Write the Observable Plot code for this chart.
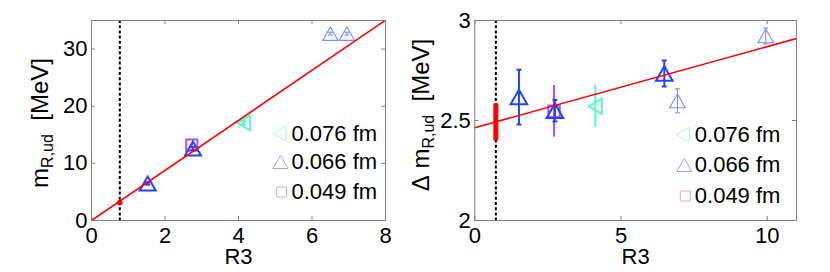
<!DOCTYPE html>
<html><head><meta charset="utf-8">
<script src="https://cdn.jsdelivr.net/npm/d3@7"></script>
<script src="https://cdn.jsdelivr.net/npm/@observablehq/plot@0.6"></script>
<style>
body{margin:0;background:#fff;}
#wrap{display:flex;width:830px;height:272px;overflow:hidden;}
svg{display:block;}
</style></head><body><div id="wrap"></div>
<script>
// legend labels (lattice spacings)
const legendLabels = ["0.076 fm", "0.066 fm", "0.049 fm"];

// ---- Left panel: m_R,ud [MeV] vs R3 ----
const leftXTicks = [0, 2, 4, 6, 8];
const leftYTicks = [0, 10, 20, 30];
const mR3_076 = [4.14], m_076 = [17.1], mErr_076 = [0.3];
const mR3_066 = [1.53, 2.76], m_066 = [6.47, 12.6], mErr_066 = [0.2, 0.25];
const mR3_066b = [6.50, 6.95], m_066b = [32.7, 32.7], mErr_066b = [0.25, 0.25];
const mR3_049 = [2.73], m_049 = [13.2], mErr_049 = [0.2];
const mPhysR3 = [0.77], mPhys = [3.1], mPhysErr = [0.4];
const mFitR3 = [0, 8], mFit = [0, 35.04];

// ---- Right panel: Delta m_R,ud [MeV] vs R3 ----
const rightXTicks = [0, 5, 10];
const rightYTicks = [2, 2.5, 3];
const dR3_076 = [4.12], d_076 = [2.571], dErr_076 = [0.107];
const dR3_066 = [1.51, 2.74, 6.48], d_066 = [2.617, 2.549, 2.735], dErr_066 = [0.137, 0.054, 0.065];
const dR3_066b = [6.93, 9.95], d_066b = [2.598, 2.923], dErr_066b = [0.06, 0.04];
const dR3_049 = [2.71], d_049 = [2.546], dErr_049 = [0.129];
const dPhysR3 = [0.72], dPhys = [2.49], dPhysErr = [0.093];
const dFitR3 = [0, 11], dFit = [2.464, 2.910];

const rows = (xs, ys, es) => xs.map((x, i) => ({x, y: ys[i], e: es ? es[i] : 0}));

// marker shapes
const triUp = {draw(c, s) {const r = Math.sqrt(s / Math.PI), h = 0.875 * r; c.moveTo(0, -h); c.lineTo(r, h); c.lineTo(-r, h); c.closePath();}};
const triLeft = {draw(c, s) {const r = Math.sqrt(s / Math.PI), h = 0.875 * r; c.moveTo(-h, 0); c.lineTo(h, -r); c.lineTo(h, r); c.closePath();}};
const square = {draw(c, s) {const r = Math.sqrt(s / Math.PI); c.rect(-r, -r, 2 * r, 2 * r);}};
const capSym = {draw(c, s) {const r = Math.sqrt(s / Math.PI); c.moveTo(-r, 0); c.lineTo(r, 0);}};

const DARK = "#2443ff", LIGHT = "#7b8cff", CYAN = "#5ff5c8", PURPLE = "#b44cf2";
const legendSyms = [triLeft, triUp, square];
const legendCols = ["#aef8e2", "#9aa4ff", "#dea2f8"];
const FONT = "Liberation Sans, Arial, Helvetica, sans-serif";
const FS = 22;

function series(data, sym, r, color, sw, caps) {
  const m = [
    Plot.ruleX(data, {x: "x", y1: d => d.y - d.e, y2: d => d.y + d.e, stroke: color, strokeWidth: sw})
  ];
  if (caps) {
    m.push(Plot.dot(data, {x: "x", y: d => d.y + d.e, symbol: capSym, r: 2.5, stroke: color, strokeWidth: sw}));
    m.push(Plot.dot(data, {x: "x", y: d => d.y - d.e, symbol: capSym, r: 2.5, stroke: color, strokeWidth: sw}));
  }
  m.push(Plot.dot(data, {x: "x", y: "y", symbol: sym, r, stroke: color, strokeWidth: sw, fill: "none"}));
  return m;
}

function panel(cfg) {
  const W = 415, H = 272;
  const fw = W - cfg.ml - cfg.mr, fh = H - cfg.mt - cfg.mb;
  const legend = [];
  for (let i = 0; i < 3; i++) {
    legend.push(Plot.dot([0], {frameAnchor: "top-left", dx: cfg.legMx[i], dy: cfg.legY[i], symbol: legendSyms[i],
      r: i === 2 ? 5 : 7.5, stroke: legendCols[i], strokeWidth: 1, fill: "none"}));
    legend.push(Plot.text([legendLabels[i]], {frameAnchor: "top-left", dx: cfg.legTx, dy: cfg.legY[i],
      textAnchor: "start", lineAnchor: "middle", fontSize: FS, fill: "black"}));
  }
  const svg = Plot.plot({
    width: W, height: H,
    marginLeft: cfg.ml, marginRight: cfg.mr, marginTop: cfg.mt, marginBottom: cfg.mb,
    style: {fontFamily: FONT, fontSize: FS + "px", background: "white", overflow: "visible"},
    x: {domain: cfg.xDomain},
    y: {domain: cfg.yDomain},
    marks: [
      Plot.ruleX(cfg.physX, {stroke: "black", strokeWidth: 2, strokeDasharray: "3,2.2"}),
      ...cfg.data,
      Plot.line(cfg.fit, {x: "x", y: "y", stroke: "red", strokeWidth: 1.6, clip: true}),
      ...cfg.phys,
      Plot.frame({stroke: "#808080", strokeWidth: 1}),
      Plot.tickX(cfg.xTicks, {x: d => d, stroke: "#808080", insetTop: fh - 4}),
      Plot.tickX(cfg.xTicks, {x: d => d, stroke: "#808080", insetBottom: fh - 4}),
      Plot.tickY(cfg.yTicks, {y: d => d, stroke: "#808080", insetRight: fw - 4}),
      Plot.tickY(cfg.yTicks, {y: d => d, stroke: "#808080", insetLeft: fw - 4}),
      Plot.axisX({ticks: cfg.xTicks, tickSize: 0, tickPadding: 7, fontSize: FS, label: null, fill: "black", tickFormat: d => String(d)}),
      Plot.axisY({ticks: cfg.yTicks, tickSize: 0, tickPadding: 4, fontSize: FS, label: null, fill: "black", tickFormat: d => String(d)}),
      Plot.text(["R3"], {frameAnchor: "bottom", dy: 28, lineAnchor: "top", fontSize: FS, fill: "black"}),
      ...legend
    ]
  });
  // y-axis label with subscript
  const t = d3.select(svg).append("text")
    .attr("transform", `translate(${cfg.labX},${cfg.labY}) rotate(-90)`)
    .attr("text-anchor", "middle")
    .attr("font-family", FONT)
    .attr("font-size", 24)
    .attr("fill", "black");
  t.append("tspan").text(cfg.labPre);
  t.append("tspan").attr("font-size", 16).attr("dy", 5).text("R,ud");
  t.append("tspan").attr("dy", -5).text("\u00a0\u00a0[MeV]");
  return svg;
}

const left = panel({
  ml: 91, mr: 30, mt: 20, mb: 52,
  xDomain: [0, 8], yDomain: [0, 35], xTicks: leftXTicks, yTicks: leftYTicks,
  physX: mPhysR3,
  fit: rows(mFitR3, mFit),
  data: [
    ...series(rows(mR3_066b, m_066b, mErr_066b), triUp, 7.7, LIGHT, 1.1, true),
    ...series(rows(mR3_049, m_049, mErr_049), square, 5.6, PURPLE, 2, false),
    ...series(rows(mR3_066, m_066, mErr_066), triUp, 8, DARK, 2, true),
    ...series(rows(mR3_076, m_076, mErr_076), triLeft, 7.5, CYAN, 2, true)
  ],
  phys: [
    Plot.ruleX(rows(mPhysR3, mPhys, mPhysErr), {x: "x", y1: d => d.y - d.e, y2: d => d.y + d.e, stroke: "red", strokeWidth: 3}),
    Plot.dot(rows(mPhysR3, mPhys, mPhysErr), {x: "x", y: "y", r: 2.8, fill: "red"})
  ],
  legMx: [188, 189, 190], legTx: 200, legY: [113, 141.5, 171.5],
  labX: 48, labY: 123, labPre: "m"
});

const right = panel({
  ml: 59.3, mr: 34, mt: 20, mb: 52,
  xDomain: [0, 11], yDomain: [2, 3], xTicks: rightXTicks, yTicks: rightYTicks,
  physX: dPhysR3,
  fit: rows(dFitR3, dFit),
  data: [
    ...series(rows(dR3_066b, d_066b, dErr_066b), triUp, 7.8, LIGHT, 1.1, true),
    ...series(rows(dR3_049, d_049, dErr_049), square, 5.7, PURPLE, 2, false),
    ...series(rows(dR3_066, d_066, dErr_066), triUp, 8.3, DARK, 2, true),
    ...series(rows(dR3_076, d_076, dErr_076), triLeft, 7.5, CYAN, 2, false)
  ],
  phys: [
    Plot.ruleX(rows(dPhysR3, dPhys, dPhysErr), {x: "x", y1: d => d.y - d.e, y2: d => d.y + d.e, stroke: "red", strokeWidth: 5})
  ],
  legMx: [208, 209.5, 210.5], legTx: 220, legY: [114, 144.5, 175.5],
  labX: 14, labY: 115, labPre: "\u0394\u00a0m"
});

document.getElementById("wrap").append(left, right);
</script></body></html>
